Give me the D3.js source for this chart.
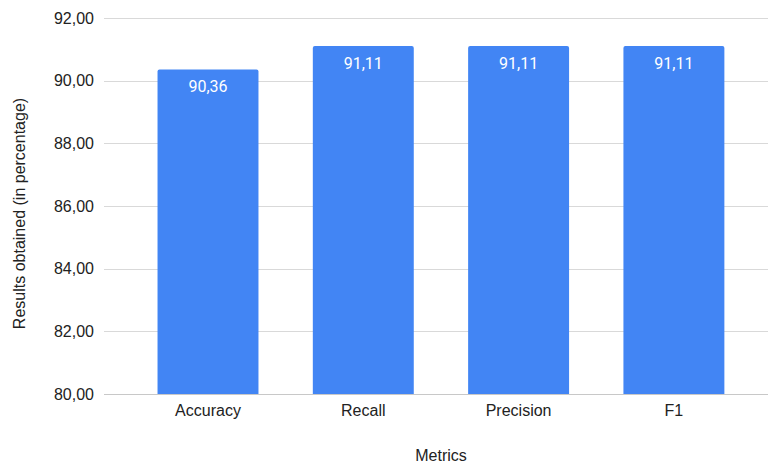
<!DOCTYPE html>
<html>
<head>
<meta charset="utf-8">
<script src="https://cdn.jsdelivr.net/npm/d3@7"></script>
<style>
  html, body { margin: 0; padding: 0; background: #fff; }
  svg { display: block; }
</style>
</head>
<body>
<svg id="chart" width="769" height="463"></svg>
<script>
// Evaluation metrics of the model, in percent
const categories = ["Accuracy", "Recall", "Precision", "F1"];
const values = [90.36, 91.11, 91.11, 91.11];
const yTicks = [80, 82, 84, 86, 88, 90, 92];
const xTitle = "Metrics";
const yTitle = "Results obtained (in percentage)";

const svg = d3.select("#chart");
const W = 769, H = 463;
const plot = { left: 104, right: 769, top: 18, bottom: 394 };

const fmt = v => d3.format(".2f")(v).replace(".", ",");

const y = d3.scaleLinear().domain([80, 92]).range([plot.bottom, plot.top]);
const x = d3.scaleBand()
  .domain(categories)
  .range([130.35, 751.55])
  .paddingInner(0.35)
  .paddingOuter(0.175);

// Horizontal gridlines
svg.append("g")
  .selectAll("line")
  .data(yTicks)
  .join("line")
  .attr("x1", plot.left)
  .attr("x2", plot.right - 1)
  .attr("y1", d => Math.round(y(d)) + 0.5)
  .attr("y2", d => Math.round(y(d)) + 0.5)
  .attr("stroke", d => d === 80 ? "#c8c8c8" : "#d9d9d9")
  .attr("stroke-width", 1.2);

// Y tick labels
svg.append("g")
  .selectAll("text")
  .data(yTicks)
  .join("text")
  .attr("x", 94)
  .attr("y", d => y(d))
  .attr("dy", "0.35em")
  .attr("text-anchor", "end")
  .attr("font-family", "Liberation Sans, Arial, sans-serif")
  .attr("font-size", 16)
  .attr("fill", "#222")
  .text(fmt);

// Bars with slightly rounded top corners
const r = 2;
function barPath(x0, w, yTop, yBot) {
  return `M${x0},${yBot}V${yTop + r}Q${x0},${yTop} ${x0 + r},${yTop}` +
         `H${x0 + w - r}Q${x0 + w},${yTop} ${x0 + w},${yTop + r}V${yBot}Z`;
}
svg.append("g")
  .selectAll("path")
  .data(categories)
  .join("path")
  .attr("d", (c, i) => barPath(x(c), x.bandwidth(), y(values[i]), y(80)))
  .attr("fill", "#4285f4");

// Value labels inside the bars
svg.append("g")
  .selectAll("text")
  .data(categories)
  .join("text")
  .attr("x", c => x(c) + x.bandwidth() / 2)
  .attr("y", (c, i) => y(values[i]) + 23)
  .attr("text-anchor", "middle")
  .attr("font-family", "Roboto, sans-serif")
  .attr("font-size", 16)
  .attr("fill", "#fff")
  .text((c, i) => fmt(values[i]));

// Category labels
svg.append("g")
  .selectAll("text")
  .data(categories)
  .join("text")
  .attr("x", c => x(c) + x.bandwidth() / 2)
  .attr("y", 416)
  .attr("text-anchor", "middle")
  .attr("font-family", "Liberation Sans, Arial, sans-serif")
  .attr("font-size", 16)
  .attr("fill", "#222")
  .text(c => c);

// Axis titles
svg.append("text")
  .attr("x", 441)
  .attr("y", 461)
  .attr("text-anchor", "middle")
  .attr("font-family", "Liberation Sans, Arial, sans-serif")
  .attr("font-size", 16)
  .attr("fill", "#222")
  .text(xTitle);

svg.append("text")
  .attr("transform", "translate(25,213.5) rotate(-90)")
  .attr("text-anchor", "middle")
  .attr("font-family", "Liberation Sans, Arial, sans-serif")
  .attr("font-size", 16)
  .attr("fill", "#222")
  .text(yTitle);
</script>
</body>
</html>
